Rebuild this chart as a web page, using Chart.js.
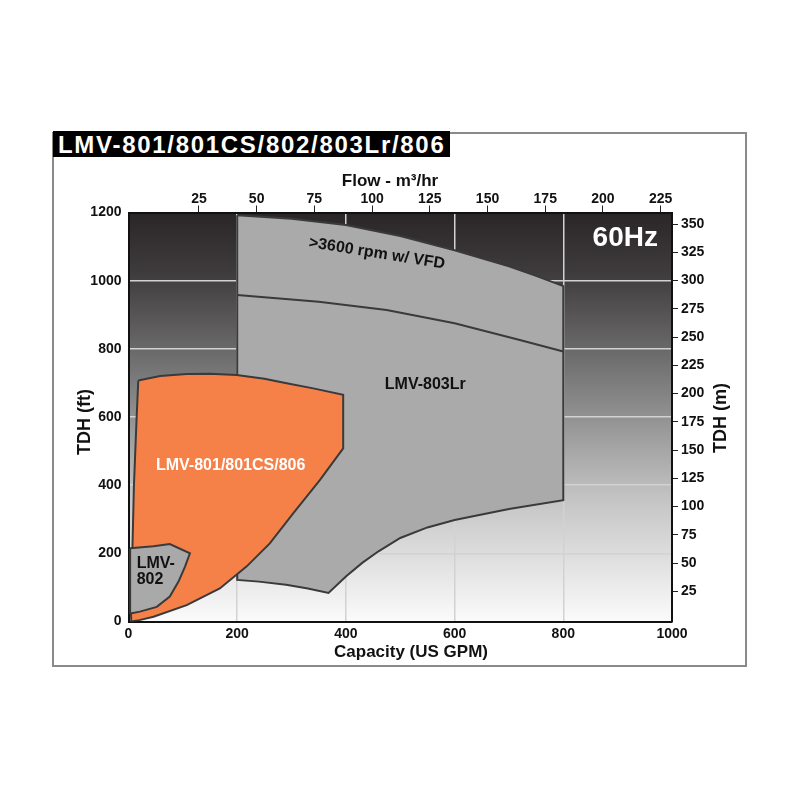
<!DOCTYPE html>
<html>
<head>
<meta charset="utf-8">
<script src="https://cdn.jsdelivr.net/npm/chart.js@4/dist/chart.umd.min.js"></script>
<style>
  body { margin: 0; background: #fff; }
  #wrap { position: relative; width: 800px; height: 800px; }
  #frame { position: absolute; left: 52px; top: 132px; width: 691px; height: 531px; border: 2px solid #8a8a8a; }
  #title { position: absolute; left: 53px; top: 131px; width: 397px; height: 26px; background: #000; color: #fff;
           font: bold 24px "Liberation Sans", Arial, sans-serif; letter-spacing: 1.7px; line-height: 27px;
           padding-left: 5px; box-sizing: border-box; white-space: nowrap; overflow: hidden; }
  canvas { position: absolute; left: 0; top: 0; }
</style>
</head>
<body>
<div id="wrap">
  <div id="frame"></div>
  <div id="title">LMV-801/801CS/802/803Lr/806</div>
  <canvas id="c" width="800" height="800"></canvas>
</div>
<script>
// ---- Data ----
const capacityTicks = [0, 200, 400, 600, 800, 1000];          // US GPM
const tdhFtTicks = [0, 200, 400, 600, 800, 1000, 1200];        // ft
const flowTicks = [25, 50, 75, 100, 125, 150, 175, 200, 225];  // m3/hr
const tdhMTicks = [25, 50, 75, 100, 125, 150, 175, 200, 225, 250, 275, 300, 325, 350]; // m

// LMV-803Lr envelope
const lmv803Gpm = [200, 300, 400, 500, 600, 700, 750, 800, 800, 700, 600, 550, 500, 460, 430, 400, 368, 330, 290, 240, 200, 200];
const lmv803Ft  = [1192, 1182, 1163, 1131, 1089, 1042, 1014, 984, 356, 330, 298, 276, 245, 206, 172, 132, 84, 97, 108, 117, 122, 1192];

// 3600 rpm boundary (above = VFD)
const vfdLineGpm = [200, 350, 475, 600, 720, 800];
const vfdLineFt  = [958, 938, 914, 875, 826, 792];

// LMV-801/801CS/806 envelope
const lmv801Gpm = [18, 58, 107, 150, 199, 250, 291, 340, 395, 395, 352, 303, 260, 217, 168, 107, 46, 20, 5, 4, 7, 10, 15, 18];
const lmv801Ft  = [707, 720, 726, 727, 723, 712, 699, 684, 665, 508, 415, 317, 229, 161, 97, 48, 14, 4, 0, 60, 200, 400, 600, 707];

// LMV-802 envelope
const lmv802Gpm = [3, 46, 76, 113, 104, 92, 76, 52, 21, 6, 3, 3];
const lmv802Ft  = [215, 221, 227, 200, 161, 117, 73, 43, 29, 24, 24, 215];

const zip = (xs, ys) => xs.map((x, i) => ({ x: x, y: ys[i] }));

const FONT = '"Liberation Sans", Arial, sans-serif';
Chart.defaults.font.family = FONT;
Chart.defaults.font.weight = 'bold';
Chart.defaults.color = '#111';

const areaLabels = [
  { text: 'LMV-803Lr', x: 546, y: 696, color: '#111', size: 16 },
  { text: 'LMV-801/801CS/806', x: 188, y: 456, color: '#fff', size: 16 },
  { text: '>3600 rpm w/ VFD', x: 457, y: 1080, color: '#111', size: 16, rot: 9 },
  { text: '60Hz', x: 914, y: 1125, color: '#fff', size: 28 },
  { text: 'LMV-', x: 15, y: 171, color: '#111', size: 16, align: 'left' },
  { text: '802', x: 15, y: 122, color: '#111', size: 16, align: 'left' }
];

const bgPlugin = {
  id: 'bg',
  beforeDraw(chart) {
    const { ctx, chartArea: a } = chart;
    const g = ctx.createLinearGradient(0, a.top, 0, a.bottom);
    g.addColorStop(0, '#2a2627');
    g.addColorStop(0.15, '#3f3c3d');
    g.addColorStop(0.45, '#858585');
    g.addColorStop(0.7, '#c4c4c4');
    g.addColorStop(1, '#fbfbfb');
    ctx.save();
    ctx.fillStyle = g;
    ctx.fillRect(a.left, a.top, a.right - a.left, a.bottom - a.top);
    ctx.restore();
  }
};

const textPlugin = {
  id: 'texts',
  afterDatasetsDraw(chart) {
    const { ctx, scales } = chart;
    ctx.save();
    areaLabels.forEach(l => {
      const px = scales.x.getPixelForValue(l.x);
      const py = scales.y.getPixelForValue(l.y);
      ctx.save();
      ctx.translate(px, py);
      if (l.rot) ctx.rotate(l.rot * Math.PI / 180);
      ctx.font = 'bold ' + l.size + 'px ' + FONT;
      ctx.fillStyle = l.color;
      ctx.textAlign = l.align || 'center';
      ctx.textBaseline = 'middle';
      ctx.fillText(l.text, 0, 0);
      ctx.restore();
    });
    ctx.restore();
  },
  afterDraw(chart) {
    const { ctx } = chart;
    ctx.save();
    ctx.font = 'bold 17px ' + FONT;
    ctx.fillStyle = '#111';
    ctx.textAlign = 'center';
    ctx.textBaseline = 'middle';
    ctx.fillText('Capacity (US GPM)', 411, 652);
    ctx.fillText('Flow - m\u00B3/hr', 390, 181);
    ctx.font = 'bold 18px ' + FONT;
    ctx.save(); ctx.translate(85, 422); ctx.rotate(-Math.PI / 2); ctx.fillText('TDH (ft)', 0, 0); ctx.restore();
    ctx.save(); ctx.translate(721, 418); ctx.rotate(-Math.PI / 2); ctx.fillText('TDH (m)', 0, 0); ctx.restore();
    ctx.restore();
  }
};

const shapeStyle = { pointRadius: 0, borderWidth: 2, borderColor: '#3a3a3a', tension: 0, fill: 'shape' };
const gridColor = (ends) => (c) => (c.tick && ends.includes(c.tick.value)) ? 'rgba(0,0,0,0)' : '#d2d2d2';
const plain = v => String(v);

new Chart(document.getElementById('c'), {
  type: 'line',
  data: {
    datasets: [
      Object.assign({ label: 'LMV-802', data: zip(lmv802Gpm, lmv802Ft), backgroundColor: '#a9a9a9', order: 0 }, shapeStyle),
      Object.assign({ label: 'LMV-801/801CS/806', data: zip(lmv801Gpm, lmv801Ft), backgroundColor: '#f58048', order: 1 }, shapeStyle),
      { label: '3600 rpm', data: zip(vfdLineGpm, vfdLineFt), pointRadius: 0, borderWidth: 2, borderColor: '#3a3a3a', tension: 0, fill: false, order: 2 },
      Object.assign({ label: 'LMV-803Lr', data: zip(lmv803Gpm, lmv803Ft), backgroundColor: '#aaaaaa', order: 3 }, shapeStyle)
    ]
  },
  options: {
    responsive: false,
    animation: false,
    layout: { padding: 0 },
    plugins: { legend: { display: false }, tooltip: { enabled: false } },
    scales: {
      x: {
        type: 'linear', position: 'bottom', min: 0, max: 1000,
        afterBuildTicks: s => { s.ticks = capacityTicks.map(v => ({ value: v })); },
        afterFit: s => { s.height = 178.5; },
        ticks: { font: { size: 14, weight: 'bold' }, color: '#111', padding: 4, maxRotation: 0, callback: plain },
        grid: { color: gridColor([0, 1000]), lineWidth: 1.5, drawTicks: false },
        border: { display: true, color: '#111', width: 2 }
      },
      x2: {
        type: 'linear', position: 'top', min: -5.5, max: 229.9,
        afterBuildTicks: s => { s.ticks = flowTicks.map(v => ({ value: v })); },
        afterFit: s => { s.height = 212.5; },
        ticks: { font: { size: 14, weight: 'bold' }, color: '#111', padding: -2, maxRotation: 0, callback: plain },
        grid: { drawOnChartArea: false, drawTicks: true, tickLength: 7, color: '#222', lineWidth: 1 },
        border: { display: true, color: '#111', width: 2 }
      },
      y: {
        type: 'linear', position: 'left', min: 0, max: 1200,
        afterBuildTicks: s => { s.ticks = tdhFtTicks.map(v => ({ value: v })); },
        afterFit: s => { s.width = 128.5; },
        ticks: { font: { size: 14, weight: 'bold' }, color: '#111', padding: 7, callback: plain },
        grid: { color: gridColor([0, 1200]), lineWidth: 1.5, drawTicks: false },
        border: { display: true, color: '#111', width: 2 }
      },
      y2: {
        type: 'linear', position: 'right', min: -1.7, max: 360.2,
        afterBuildTicks: s => { s.ticks = tdhMTicks.map(v => ({ value: v })); },
        afterFit: s => { s.width = 128; },
        ticks: { font: { size: 14, weight: 'bold' }, color: '#111', padding: 3, callback: plain },
        grid: { drawOnChartArea: false, drawTicks: true, tickLength: 6, color: '#222', lineWidth: 1 },
        border: { display: true, color: '#111', width: 2 }
      }
    }
  },
  plugins: [bgPlugin, textPlugin]
});
</script>
</body>
</html>
